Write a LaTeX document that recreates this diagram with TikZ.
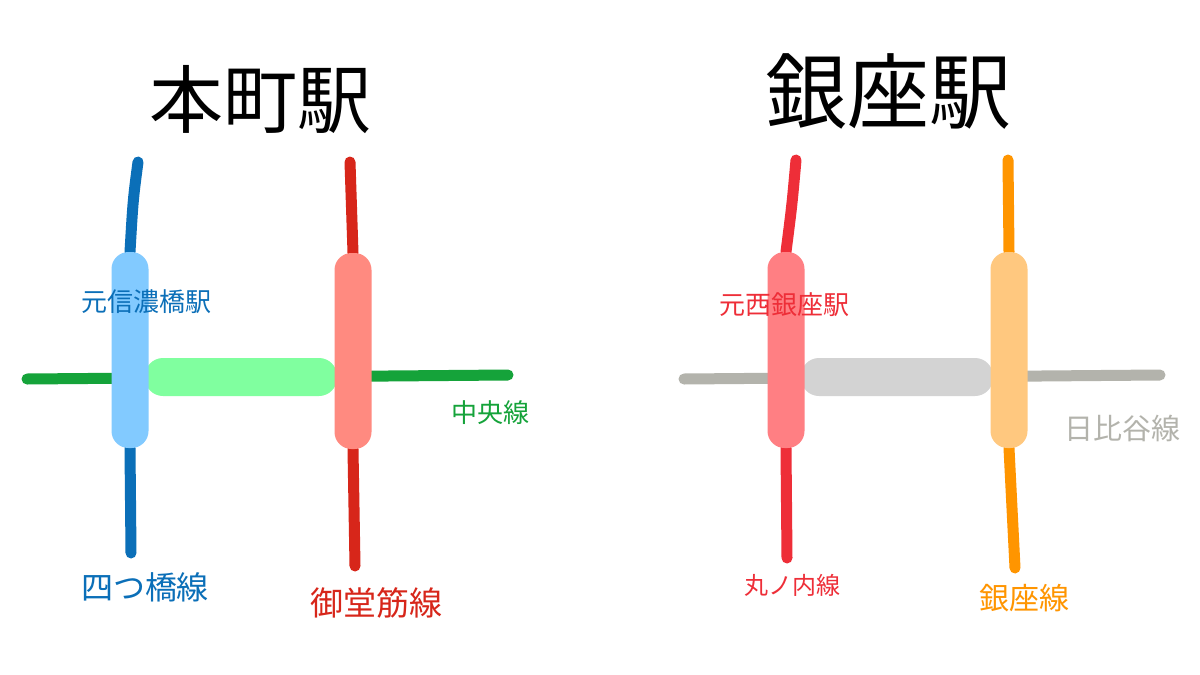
\documentclass[tikz,border=0pt]{standalone}
\usepackage{fontspec}
\setmainfont{Noto Sans CJK JP}
\usetikzlibrary{backgrounds}
\definecolor{yotsu}{HTML}{0B6FB8}
\definecolor{yotsubox}{HTML}{82CAFF}
\definecolor{mido}{HTML}{D7261A}
\definecolor{midobox}{HTML}{FF8A80}
\definecolor{chuo}{HTML}{15A33A}
\definecolor{chuobar}{HTML}{80FF9F}
\definecolor{maru}{HTML}{EE2E38}
\definecolor{marubox}{HTML}{FF7F83}
\definecolor{ginza}{HTML}{FF9500}
\definecolor{ginzabox}{HTML}{FFC87F}
\definecolor{hibi}{HTML}{B3B3AC}
\definecolor{hibibar}{HTML}{D3D3D3}
\begin{document}
\begin{tikzpicture}[x=1pt,y=-1pt,
  railline/.style={line width=11pt, line cap=round},
  stbox/.style={rectangle, rounded corners=17pt, minimum width=37pt, minimum height=196pt, inner sep=0pt},
  linkbar/.style={rectangle, rounded corners=18pt, minimum width=192pt, minimum height=38pt, inner sep=0pt},
  lbl/.style={inner sep=0pt, anchor=center}]
\useasboundingbox (0,0) rectangle (1200,675);
% titles
\node[lbl, font=\fontsize{74}{80}\selectfont] (t1) at (260,100) {本町駅};
\node[lbl, font=\fontsize{82}{88}\selectfont] (t2) at (888,92) {銀座駅};
% station boxes
\node[stbox, fill=yotsubox] (yb) at (130,350) {};
\node[stbox, fill=midobox] (mb) at (353,351) {};
\node[stbox, fill=marubox] (rb) at (786,350) {};
\node[stbox, fill=ginzabox] (gb) at (1009,350) {};
% end points
\coordinate (yt) at (138,162);
\coordinate (ys) at (131,553);
\coordinate (mt) at (350,162);
\coordinate (ms) at (355,566);
\coordinate (cw) at (27,379);
\coordinate (ce) at (508,375);
\coordinate (rt) at (796,160);
\coordinate (rs) at (787,558);
\coordinate (gt) at (1008,160);
\coordinate (gs) at (1015,568);
\coordinate (hw) at (684,379);
\coordinate (he) at (1160,375);
\begin{pgfonlayer}{background}
  \fill[white] (0,0) rectangle (1200,675);
  \draw[railline, yotsu] (yt) .. controls (133,200) .. (yb.north);
  \draw[railline, yotsu] (yb.south) -- (ys);
  \draw[railline, mido] (mt) -- (mb.north);
  \draw[railline, mido] (mb.south) -- (ms);
  \draw[railline, chuo] (cw) -- (ce);
  \node[linkbar, fill=chuobar] (cb) at (241,377) {};
  \draw[railline, maru] (rt) .. controls (792,205) .. (rb.north);
  \draw[railline, maru] (rb.south) -- (rs);
  \draw[railline, ginza] (gt) -- (gb.north);
  \draw[railline, ginza] (gb.south) -- (gs);
  \draw[railline, hibi] (hw) -- (he);
  \node[linkbar, fill=hibibar] (hb) at (897,377) {};
\end{pgfonlayer}
% labels
\node[lbl, text=yotsu, font=\fontsize{26}{28}\selectfont] (l1) at (146,302) {元信濃橋駅};
\node[lbl, text=chuo, font=\fontsize{26}{28}\selectfont] (l2) at (490,413) {中央線};
\node[lbl, text=yotsu, font=\fontsize{32}{34}\selectfont] (l3) at (145,587) {四つ橋線};
\node[lbl, text=mido, font=\fontsize{33}{35}\selectfont] (l4) at (376,603) {御堂筋線};
\node[lbl, text=maru, font=\fontsize{26}{28}\selectfont] (l5) at (784,305) {元西銀座駅};
\node[lbl, text=hibi, font=\fontsize{29}{31}\selectfont] (l6) at (1122,428) {日比谷線};
\node[lbl, text=maru, font=\fontsize{24}{26}\selectfont] (l7) at (792,585) {丸ノ内線};
\node[lbl, text=ginza, font=\fontsize{30}{32}\selectfont] (l8) at (1024,598) {銀座線};
\end{tikzpicture}
\end{document}
